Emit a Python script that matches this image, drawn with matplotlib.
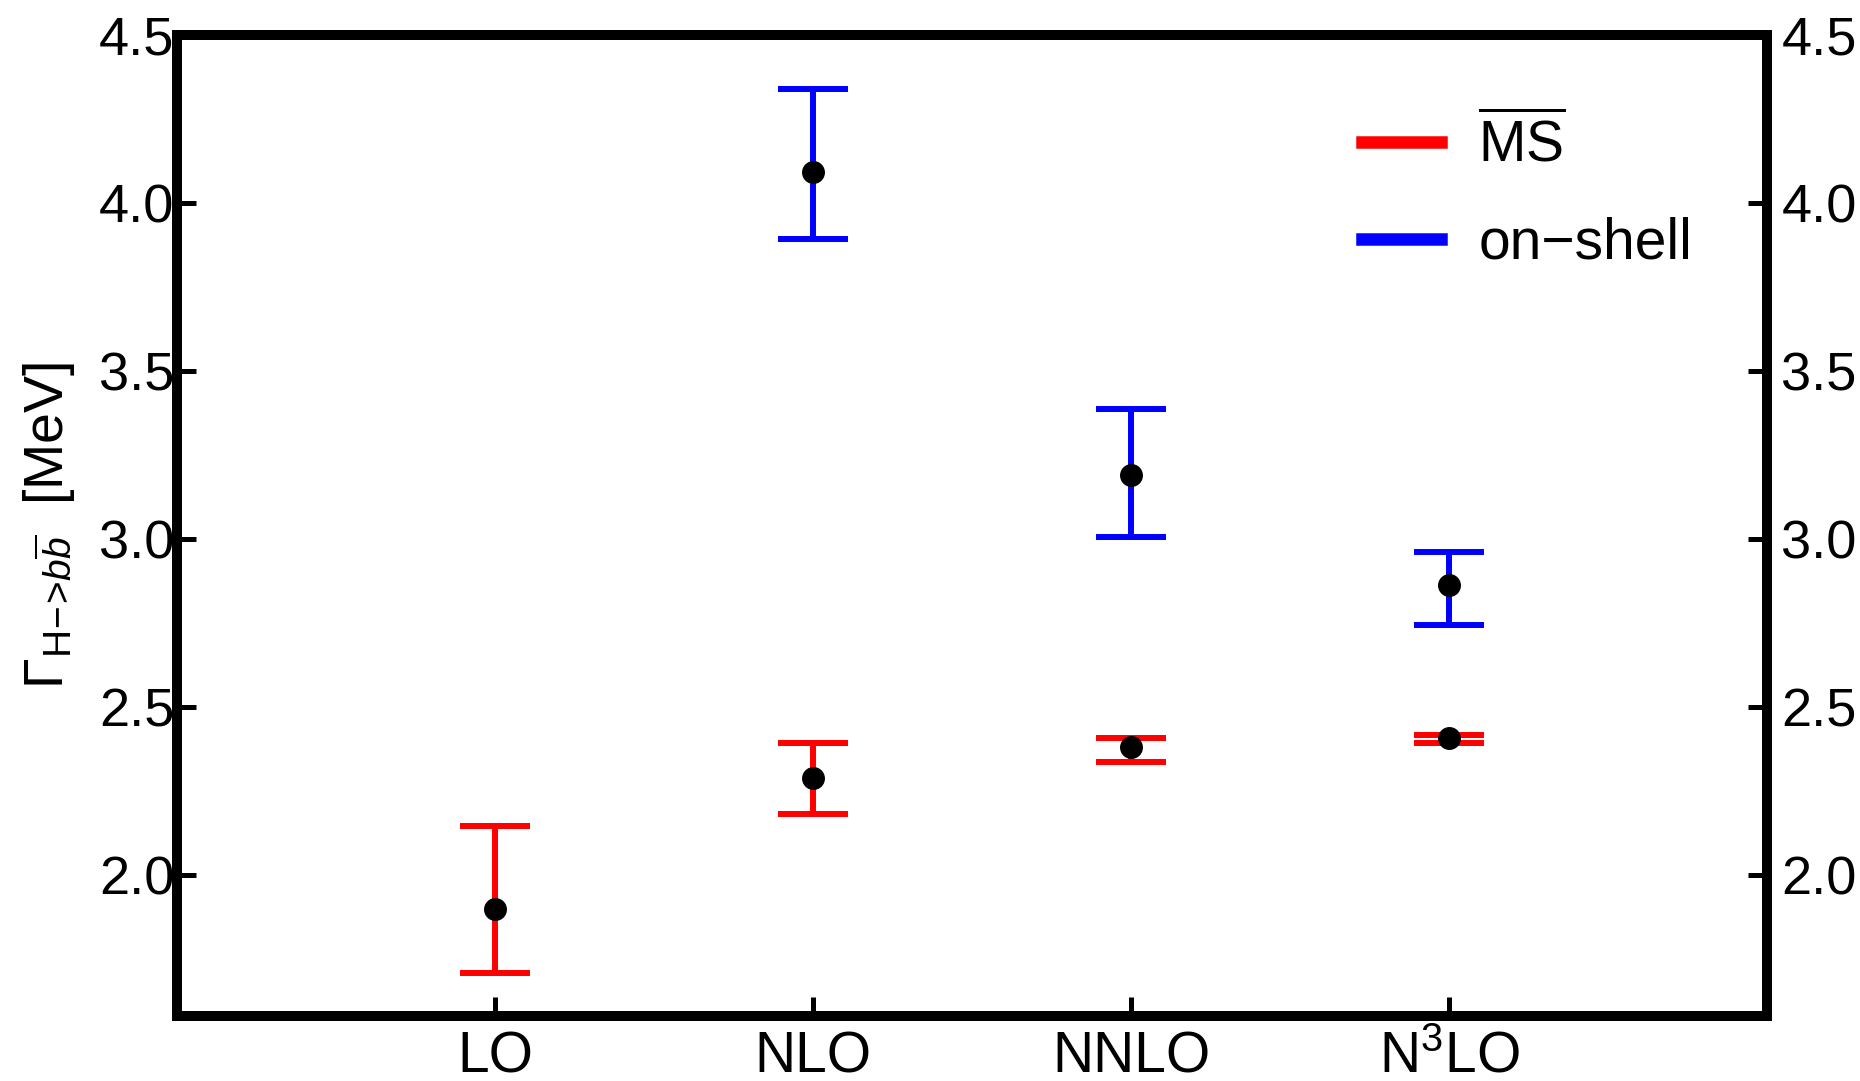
import numpy as np
import matplotlib
matplotlib.use("Agg")
import matplotlib.pyplot as plt
from matplotlib.lines import Line2D

matplotlib.rcParams.update({
    "font.family": ["Liberation Sans", "DejaVu Sans"],
    "mathtext.fontset": "custom",
    "mathtext.rm": "Liberation Sans",
    "mathtext.it": "Liberation Sans:italic",
    "mathtext.bf": "Liberation Sans:bold",
})

# ---------------------------------------------------------------------------
# Data
# ---------------------------------------------------------------------------
orders = ["LO", "NLO", "NNLO", r"N$^3$LO"]
order_pos = [1, 2, 3, 4]

ms_pos = [1, 2, 3, 4]
ms_central = [1.90, 2.29, 2.38, 2.407]
ms_upper = [2.145, 2.392, 2.408, 2.416]
ms_lower = [1.708, 2.183, 2.335, 2.392]

os_pos = [2, 3, 4]
os_central = [4.092, 3.19, 2.863]
os_upper = [4.338, 3.387, 2.962]
os_lower = [3.894, 3.007, 2.745]

yticks = [2.0, 2.5, 3.0, 3.5, 4.0, 4.5]
ylim = (1.58, 4.5)

# ---------------------------------------------------------------------------
# Plot
# ---------------------------------------------------------------------------
fig = plt.figure(figsize=(18.6, 10.81), dpi=100)
ax = fig.add_axes([0.0952, 0.060, 0.855, 0.9076])

err_kw = dict(fmt="none", elinewidth=4.3, capsize=25, capthick=4.3)

ms_c = np.array(ms_central)
ax.errorbar(ms_pos, ms_c,
            yerr=[ms_c - np.array(ms_lower), np.array(ms_upper) - ms_c],
            ecolor="#ff0000", **err_kw)
os_c = np.array(os_central)
ax.errorbar(os_pos, os_c,
            yerr=[os_c - np.array(os_lower), np.array(os_upper) - os_c],
            ecolor="#0000ff", **err_kw)

ax.plot(ms_pos, ms_central, "o", color="black", markersize=15.5, zorder=5)
ax.plot(os_pos, os_central, "o", color="black", markersize=15.5, zorder=5)

ax.set_xlim(0, 5)
ax.set_ylim(*ylim)
ax.set_xticks(order_pos)
ax.set_xticklabels(orders)
ax.set_yticks(yticks)
ax.set_yticklabels([f"{t:.1f}" for t in yticks])

# right-hand axis with the same ticks
axr = ax.twinx()
axr.set_ylim(*ylim)
axr.set_yticks(yticks)
axr.set_yticklabels([f"{t:.1f}" for t in yticks])

for a in (ax, axr):
    for sp in a.spines.values():
        sp.set_linewidth(7.2)

ax.tick_params(axis="both", direction="in", length=14, width=3.6)
ax.tick_params(axis="y", labelsize=39, pad=2)
ax.tick_params(axis="x", labelsize=41, pad=10)
axr.tick_params(axis="y", direction="in", length=14, width=3.6,
                labelsize=39, pad=10)

ax.set_ylabel(r"$\Gamma_{\rm H\!-\!\!>\!\mathit{b}\overline{\mathit{b}}}$  [MeV]",
              fontsize=40, labelpad=16)

handles = [Line2D([], [], color="#ff0000", lw=9),
           Line2D([], [], color="#0000ff", lw=9)]
ax.legend(handles, [r"$\overline{\mathrm{MS}}$", "on\u2212shell"],
          loc="upper right", bbox_to_anchor=(0.985, 0.972),
          frameon=False, fontsize=41, handlelength=1.4,
          handletextpad=0.65, labelspacing=0.75)

fig.savefig("out.png", dpi=100)
